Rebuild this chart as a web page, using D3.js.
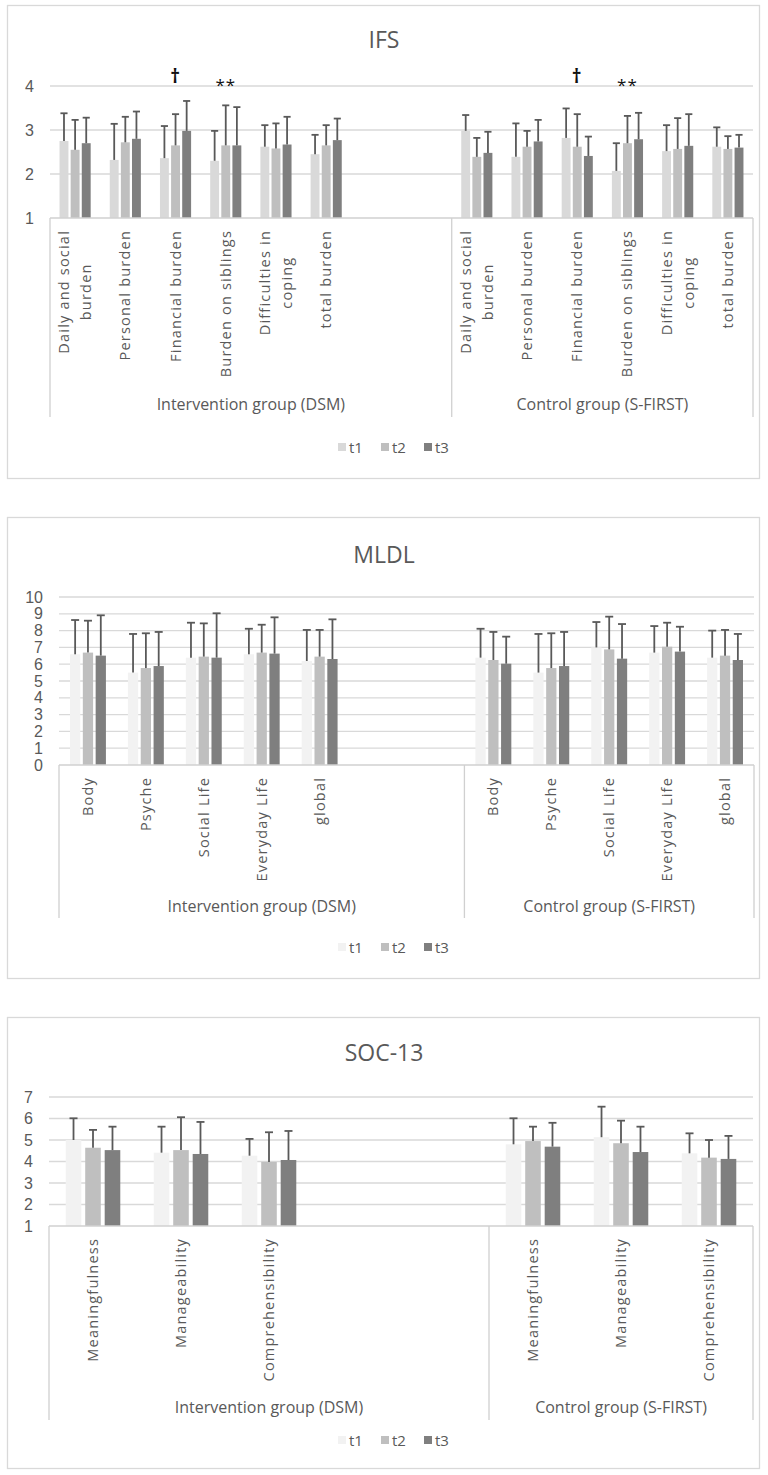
<!DOCTYPE html>
<html lang="en">
<head>
  <meta charset="UTF-8">
  <title>IFS, MLDL and SOC-13 by group and time point</title>
  <style>
    body {
      margin: 0;
      padding: 0;
      background: #fff;
      font-family: "Open Sans", Arial, sans-serif;
    }
    svg text { fill: #595959; }
  </style>
</head>
<body>
  <svg id="chart" width="768" height="1475"></svg>

  <script src="https://d3js.org/d3.v7.min.js"></script>
  <script>
    // ---- data ----
    const seriesNames = ["t1", "t2", "t3"];
    const groupNames = ["Intervention group (DSM)", "Control group (S-FIRST)"];

    // IFS (family burden); each row = one category, values for t1, t2, t3
    const ifsCategories = ["Daily and social|burden", "Personal burden", "Financial burden",
                           "Burden on siblings", "Difficulties in|coping", "total burden"];
    const ifsDsmMean = [[2.75, 2.55, 2.70], [2.32, 2.72, 2.80], [2.36, 2.65, 2.98],
                        [2.30, 2.65, 2.65], [2.62, 2.58, 2.67], [2.45, 2.65, 2.77]];
    const ifsDsmSd   = [[0.63, 0.68, 0.58], [0.82, 0.58, 0.62], [0.73, 0.71, 0.68],
                        [0.68, 0.91, 0.87], [0.49, 0.57, 0.63], [0.44, 0.46, 0.49]];
    const ifsCtrlMean = [[2.98, 2.39, 2.48], [2.39, 2.62, 2.74], [2.82, 2.62, 2.41],
                         [2.07, 2.70, 2.79], [2.52, 2.57, 2.64], [2.62, 2.57, 2.60]];
    const ifsCtrlSd   = [[0.36, 0.43, 0.48], [0.76, 0.36, 0.49], [0.67, 0.74, 0.44],
                         [0.63, 0.62, 0.60], [0.59, 0.70, 0.72], [0.44, 0.29, 0.29]];
    const ifsMarkers = [
      { group: 0, cat: 2, text: "†" }, { group: 0, cat: 3, text: "**" },
      { group: 1, cat: 2, text: "†" }, { group: 1, cat: 3, text: "**" }
    ];

    // MLDL
    const mldlCategories = ["Body", "Psyche", "Social Life", "Everyday Life", "global"];
    const mldlDsmMean = [[6.59, 6.69, 6.51], [5.50, 5.77, 5.89], [6.39, 6.45, 6.39],
                         [6.59, 6.69, 6.63], [6.19, 6.45, 6.31]];
    const mldlDsmSd   = [[2.04, 1.90, 2.40], [2.30, 2.07, 2.03], [2.08, 1.98, 2.64],
                         [1.52, 1.66, 2.16], [1.85, 1.59, 2.36]];
    const mldlCtrlMean = [[6.39, 6.25, 6.03], [5.50, 5.77, 5.89], [7.00, 6.88, 6.33],
                          [6.69, 7.04, 6.75], [6.39, 6.51, 6.25]];
    const mldlCtrlSd   = [[1.72, 1.67, 1.61], [2.30, 2.07, 2.03], [1.51, 1.95, 2.06],
                          [1.58, 1.43, 1.48], [1.61, 1.53, 1.55]];

    // SOC-13
    const socCategories = ["Meaningfulness", "Manageability", "Comprehensibility"];
    const socDsmMean = [[5.00, 4.64, 4.53], [4.41, 4.53, 4.35], [4.27, 3.98, 4.07]];
    const socDsmSd   = [[1.01, 0.83, 1.09], [1.21, 1.53, 1.49], [0.78, 1.38, 1.35]];
    const socCtrlMean = [[4.80, 4.95, 4.69], [5.13, 4.85, 4.44], [4.38, 4.18, 4.12]];
    const socCtrlSd   = [[1.21, 0.67, 1.11], [1.42, 1.05, 1.18], [0.93, 0.82, 1.07]];

    const svg = d3.select("#chart");

    function drawPanel(cfg) {
      const g = svg.append("g");

      // outer chart-area border
      g.append("rect")
        .attr("x", 7.5).attr("y", cfg.top + 0.5)
        .attr("width", 752).attr("height", cfg.bottom - cfg.top)
        .attr("fill", "#fff").attr("stroke", "#d9d9d9").attr("stroke-width", 1.3);

      g.append("text")
        .attr("x", 384).attr("y", cfg.titleY)
        .attr("text-anchor", "middle")
        .style("font-size", "23px")
        .text(cfg.title);

      const y = d3.scaleLinear().domain(cfg.yDomain).range([cfg.axisY, cfg.yTopPx]);

      // slots: group 0 has its categories plus empty slots, then group 1
      const slots = [];
      cfg.cats.forEach((c, i) => slots.push({ group: 0, cat: i }));
      for (let i = 0; i < cfg.blanks; i++) slots.push({ group: 0, cat: -1 - i });
      cfg.cats.forEach((c, i) => slots.push({ group: 1, cat: i }));
      const slotKey = s => s.group + ":" + s.cat;

      const x = d3.scaleBand().domain(slots.map(slotKey)).range([cfg.x0, cfg.x1]);
      const gw = x.bandwidth() * 0.62;
      const xs = d3.scaleBand().domain(seriesNames)
        .range([(x.bandwidth() - gw) / 2, (x.bandwidth() + gw) / 2])
        .paddingInner(0.2);

      // gridlines
      const ticks = d3.range(cfg.yDomain[0], cfg.yDomain[1] + 1);
      g.selectAll(".grid").data(ticks.slice(1)).enter().append("line")
        .attr("x1", cfg.x0).attr("x2", cfg.x1)
        .attr("y1", d => y(d)).attr("y2", d => y(d))
        .attr("stroke", "#d9d9d9").attr("stroke-width", 1.3);

      // y tick labels
      const yAxis = d3.axisLeft(y).tickValues(ticks).tickFormat(d3.format("d"))
        .tickSize(0).tickPadding(16);
      const ya = g.append("g").attr("transform", `translate(${cfg.x0},0)`).call(yAxis);
      ya.select(".domain").remove();
      ya.selectAll("text").style("font-size", "16px").attr("fill", "#595959")
        .attr("font-family", null);

      // bars + error bars
      const colors = [cfg.t1Color, "#bfbfbf", "#7f7f7f"];
      const rows = [];
      [[cfg.mean0, cfg.sd0], [cfg.mean1, cfg.sd1]].forEach(([means, sds], gi) => {
        means.forEach((vals, ci) => {
          vals.forEach((v, si) => rows.push({ group: gi, cat: ci, s: si, v: v, sd: sds[ci][si] }));
        });
      });
      const bx = d => x(d.group + ":" + d.cat) + xs(seriesNames[d.s]);

      g.selectAll(".bar").data(rows).enter().append("rect")
        .attr("x", bx)
        .attr("y", d => y(d.v))
        .attr("width", xs.bandwidth())
        .attr("height", d => y(cfg.yDomain[0]) - y(d.v))
        .attr("fill", d => colors[d.s]);

      const cap = Math.min(8, xs.bandwidth() * 0.8);
      const eb = g.selectAll(".err").data(rows).enter().append("g")
        .attr("stroke", "#595959").attr("stroke-width", 1.8);
      eb.append("line")
        .attr("x1", d => bx(d) + xs.bandwidth() / 2).attr("x2", d => bx(d) + xs.bandwidth() / 2)
        .attr("y1", d => y(d.v)).attr("y2", d => y(d.v + d.sd));
      eb.append("line")
        .attr("x1", d => bx(d) + xs.bandwidth() / 2 - cap / 2)
        .attr("x2", d => bx(d) + xs.bandwidth() / 2 + cap / 2)
        .attr("y1", d => y(d.v + d.sd)).attr("y2", d => y(d.v + d.sd));

      // significance markers
      (cfg.markers || []).forEach(m => {
        g.append("text")
          .attr("x", x(m.group + ":" + m.cat) + x.bandwidth() / 2)
          .attr("y", m.text === "†" ? cfg.yTopPx - 3 : cfg.yTopPx + 5)
          .attr("text-anchor", "middle")
          .style("font-size", m.text === "†" ? "19px" : "17px")
          .style("font-weight", m.text === "†" ? "bold" : "normal")
          .style("fill", "#111")
          .style("letter-spacing", "1px")
          .text(m.text);
      });

      // category axis (multi-level)
      const sep = x("1:0");
      const axisColor = "#d0d0d0";
      g.append("line").attr("x1", cfg.x0).attr("x2", cfg.x1)
        .attr("y1", cfg.axisY).attr("y2", cfg.axisY)
        .attr("stroke", axisColor).attr("stroke-width", 1.3);
      [cfg.x0, sep, cfg.x1].forEach(xx => {
        g.append("line").attr("x1", xx).attr("x2", xx)
          .attr("y1", cfg.axisY).attr("y2", cfg.vEnd)
          .attr("stroke", axisColor).attr("stroke-width", 1.3);
      });

      // rotated category labels, block top aligned just under the axis
      const labelTop = cfg.axisY + 12;
      slots.filter(s => s.cat >= 0).forEach(s => {
        const lines = cfg.cats[s.cat].split("|");
        const cx = x(slotKey(s)) + x.bandwidth() / 2;
        const lg = g.append("g").attr("transform", `translate(${cx},${labelTop}) rotate(-90)`);
        const t = lg.append("text")
          .attr("text-anchor", "middle")
          .style("font-size", "14.5px")
          .style("letter-spacing", "1.2px");
        const lh = 22;
        lines.forEach((ln, i) => {
          t.append("tspan")
            .attr("x", 0)
            .attr("y", (i - (lines.length - 1) / 2) * lh + 5)
            .text(ln);
        });
        let maxLen = 0;
        t.selectAll("tspan").each(function () {
          maxLen = Math.max(maxLen, this.getComputedTextLength());
        });
        t.selectAll("tspan").attr("x", -maxLen / 2);
      });

      // group labels
      [[cfg.x0, sep], [sep, cfg.x1]].forEach(([a, b], i) => {
        g.append("text")
          .attr("x", (a + b) / 2).attr("y", cfg.groupY + 5)
          .attr("text-anchor", "middle")
          .style("font-size", "16px")
          .text(groupNames[i]);
      });

      // legend
      const lg = g.append("g").attr("transform", `translate(338,${cfg.legendY})`);
      seriesNames.forEach((s, i) => {
        lg.append("rect").attr("x", i * 43).attr("y", -4).attr("width", 8).attr("height", 8)
          .attr("fill", colors[i]);
        lg.append("text").attr("x", i * 43 + 11).attr("y", 5.5)
          .style("font-size", "15px").text(s);
      });
    }

    drawPanel({
      title: "IFS", top: 5, bottom: 478, titleY: 48,
      yDomain: [1, 4], axisY: 218, yTopPx: 86,
      x0: 50, x1: 753, blanks: 2,
      cats: ifsCategories, mean0: ifsDsmMean, sd0: ifsDsmSd, mean1: ifsCtrlMean, sd1: ifsCtrlSd,
      t1Color: "#d9d9d9", markers: ifsMarkers,
      vEnd: 417, groupY: 405, legendY: 447
    });

    drawPanel({
      title: "MLDL", top: 517, bottom: 978, titleY: 563,
      yDomain: [0, 10], axisY: 765, yTopPx: 597,
      x0: 59, x1: 754, blanks: 2,
      cats: mldlCategories, mean0: mldlDsmMean, sd0: mldlDsmSd, mean1: mldlCtrlMean, sd1: mldlCtrlSd,
      t1Color: "#f2f2f2",
      vEnd: 918, groupY: 907, legendY: 947
    });

    drawPanel({
      title: "SOC-13", top: 1017, bottom: 1468, titleY: 1061,
      yDomain: [1, 7], axisY: 1226, yTopPx: 1097,
      x0: 49, x1: 753, blanks: 2,
      cats: socCategories, mean0: socDsmMean, sd0: socDsmSd, mean1: socCtrlMean, sd1: socCtrlSd,
      t1Color: "#f2f2f2",
      vEnd: 1420, groupY: 1408, legendY: 1440
    });
  </script>
</body>
</html>
